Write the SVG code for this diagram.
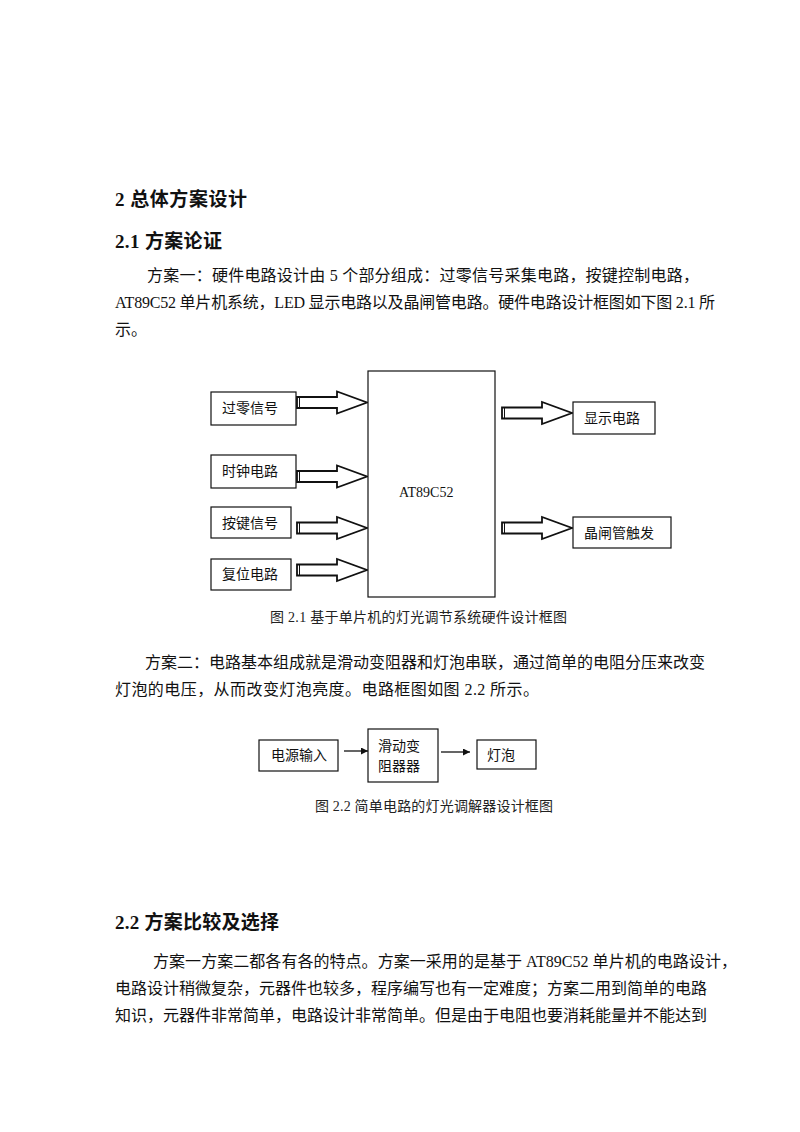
<svg xmlns="http://www.w3.org/2000/svg" width="800" height="1132" viewBox="0 0 800 1132">
<style>
.body{font-family:'Liberation Serif','Noto Sans CJK SC',serif;font-size:16px;fill:#111}
.head{font-family:'Liberation Serif','Noto Sans CJK SC',sans-serif;font-size:19px;font-weight:bold;fill:#111}
.lbl{font-family:'Liberation Serif','Noto Sans CJK SC',serif;font-size:14px;fill:#111}
.cap{font-family:'Liberation Serif','Noto Sans CJK SC',serif;font-size:14px;fill:#222}
.box{fill:#fff;stroke:#111;stroke-width:1.2}
.ba{fill:#fff;stroke:#111;stroke-width:1.8;stroke-linejoin:miter}
.thin{stroke:#111;stroke-width:1.3;fill:none}
</style>
<defs>
<g id="blockArrow">
<polygon class="ba" points="0,-5.5 40,-5.5 40,-11 70,0 40,11 40,5.5 0,5.5"/>
<line x1="2.5" y1="-5.5" x2="2.5" y2="5.5" stroke="#111" stroke-width="1"/>
</g>
<marker id="ah" viewBox="0 0 10 10" refX="10" refY="5" markerWidth="9" markerHeight="7" markerUnits="userSpaceOnUse" orient="auto">
<path d="M0,0 L10,5 L0,10 Z" fill="#111"/>
</marker>
</defs>
<rect x="0" y="0" width="800" height="1132" fill="#fff"/>

<g id="text">
<text class="head" x="115" y="206" textLength="132" lengthAdjust="spacing">2 总体方案设计</text>
<text class="head" x="115" y="248" textLength="107" lengthAdjust="spacing">2.1 方案论证</text>
<text class="body" x="147" y="281" textLength="552" lengthAdjust="spacing">方案一：硬件电路设计由 5 个部分组成：过零信号采集电路，按键控制电路，</text>
<text class="body" x="115" y="308" textLength="600" lengthAdjust="spacing">AT89C52 单片机系统，LED 显示电路以及晶闸管电路。硬件电路设计框图如下图 2.1 所</text>
<text class="body" x="115" y="335">示。</text>
<text class="cap" x="270" y="622" textLength="297" lengthAdjust="spacing">图 2.1 基于单片机的灯光调节系统硬件设计框图</text>
<text class="body" x="145" y="668" textLength="560" lengthAdjust="spacing">方案二：电路基本组成就是滑动变阻器和灯泡串联，通过简单的电阻分压来改变</text>
<text class="body" x="115" y="695" textLength="424" lengthAdjust="spacing">灯泡的电压，从而改变灯泡亮度。电路框图如图 2.2 所示。</text>
<text class="cap" x="315" y="811" textLength="238" lengthAdjust="spacing">图 2.2 简单电路的灯光调解器设计框图</text>
<text class="head" x="115" y="929" textLength="164" lengthAdjust="spacing">2.2 方案比较及选择</text>
<text class="body" x="153" y="967" textLength="584" lengthAdjust="spacing">方案一方案二都各有各的特点。方案一采用的是基于 AT89C52 单片机的电路设计，</text>
<text class="body" x="115" y="994" textLength="592" lengthAdjust="spacing">电路设计稍微复杂，元器件也较多，程序编写也有一定难度；方案二用到简单的电路</text>
<text class="body" x="115" y="1021" textLength="592" lengthAdjust="spacing">知识，元器件非常简单，电路设计非常简单。但是由于电阻也要消耗能量并不能达到</text>
</g>

<g id="connectors">
<use href="#blockArrow" transform="translate(297,402.5)"/>
<use href="#blockArrow" transform="translate(297,476.5)"/>
<use href="#blockArrow" transform="translate(297,528)"/>
<use href="#blockArrow" transform="translate(297,570)"/>
<use href="#blockArrow" transform="translate(502,413)"/>
<use href="#blockArrow" transform="translate(502,528)"/>
<line class="thin" x1="344" y1="751" x2="368" y2="751" marker-end="url(#ah)"/>
<line class="thin" x1="441" y1="752" x2="470" y2="752" marker-end="url(#ah)"/>
</g>

<g id="n_guoling">
<rect class="box" x="211" y="392" width="85" height="33"/>
<text class="lbl" x="222" y="413">过零信号</text>
</g>
<g id="n_shizhong">
<rect class="box" x="211" y="455" width="85" height="33"/>
<text class="lbl" x="222" y="476">时钟电路</text>
</g>
<g id="n_anjian">
<rect class="box" x="211" y="507" width="80" height="31"/>
<text class="lbl" x="222" y="528">按键信号</text>
</g>
<g id="n_fuwei">
<rect class="box" x="211" y="559" width="80" height="31"/>
<text class="lbl" x="222" y="579">复位电路</text>
</g>
<g id="n_mcu">
<rect class="box" x="368" y="371" width="127" height="226"/>
<text class="lbl" x="399" y="497">AT89C52</text>
</g>
<g id="n_xianshi">
<rect class="box" x="573" y="402" width="82" height="32"/>
<text class="lbl" x="584" y="423">显示电路</text>
</g>
<g id="n_jingzha">
<rect class="box" x="573" y="517" width="98" height="31"/>
<text class="lbl" x="584" y="538">晶闸管触发</text>
</g>
<g id="n_dianyuan">
<rect class="box" x="259" y="740" width="79" height="31"/>
<text class="lbl" x="271" y="760">电源输入</text>
</g>
<g id="n_huadong">
<rect class="box" x="368" y="729" width="70" height="53"/>
<text class="lbl" x="378" y="751">滑动变</text>
<text class="lbl" x="378" y="771">阻器器</text>
</g>
<g id="n_dengpao">
<rect class="box" x="477" y="740" width="59" height="29"/>
<text class="lbl" x="487" y="760">灯泡</text>
</g>
</svg>
